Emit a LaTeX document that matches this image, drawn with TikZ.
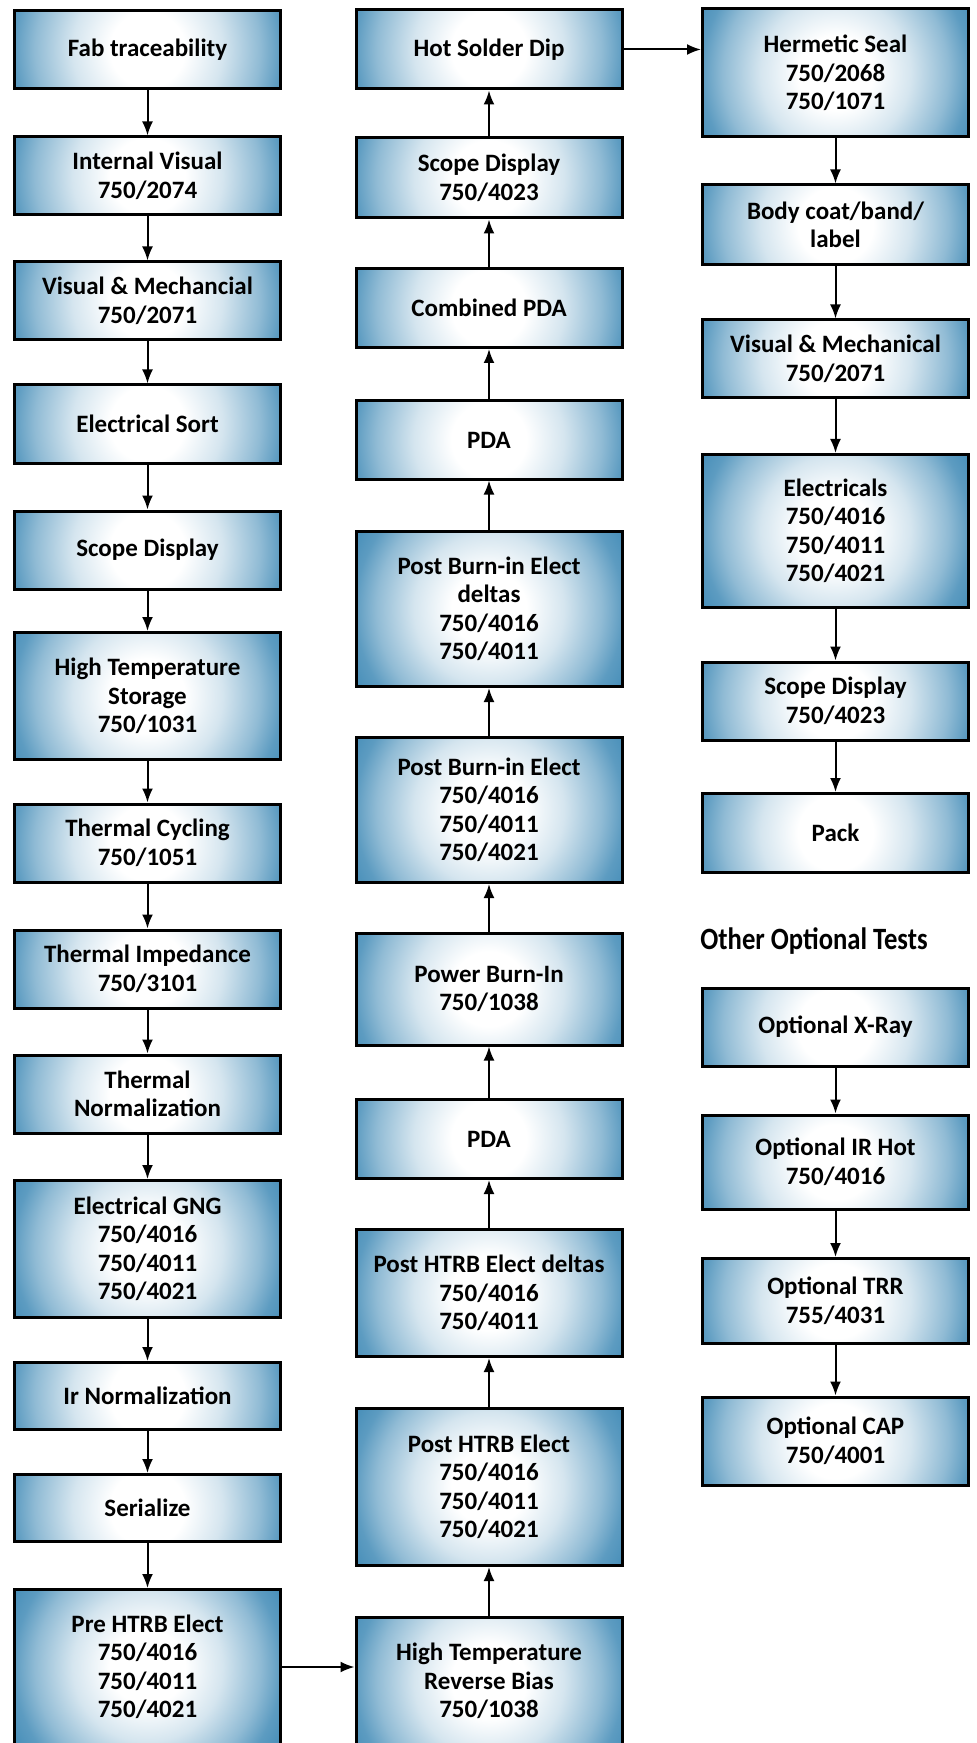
\documentclass[tikz,border=0pt]{standalone}
\usepackage{fontspec}
\setmainfont{Carlito}
\newfontfamily\titrefont{Carlito}[FakeStretch=0.86]
\usetikzlibrary{arrows.meta}
\definecolor{boxblue}{RGB}{64,138,182}
\pgfdeclareradialshading{boxshade}{\pgfpoint{0bp}{0bp}}{color(0bp)=(white); color(7bp)=(white); color(14bp)=(boxblue!22!white); color(21bp)=(boxblue!58!white); color(25bp)=(boxblue!85!white); color(30bp)=(boxblue); color(50bp)=(boxblue!85!black)}

\begin{document}
\begin{tikzpicture}[x=0.5pt,y=-0.5pt]
  \tikzstyle{flow}=[-{Latex[length=7pt,width=5.5pt]},line width=1pt]
\tikzset{stage/.style={draw,line width=1.5pt,minimum width=133pt,
minimum height=#1*0.5pt-1.5pt,inner sep=0pt,align=center,
font=\bfseries\fontsize{12.5}{14.25}\selectfont,
path picture={\shade[shading=boxshade] ([shift={(-67pt,-67pt)}]path picture bounding box.center) rectangle ++(134pt,134pt);}},
stage/.default=81}
\useasboundingbox (0,0) rectangle (976,1743);

% left column, going down
\node[stage] (A1) at (147.5,49.5){Fab traceability};
\node[stage] (A2) at (147.5,176){Internal Visual\\750/2074};
\node[stage] (A3) at (147.5,301){Visual \& Mechancial\\750/2071};
\node[stage] (A4) at (147.5,424){Electrical Sort};
\node[stage] (A5) at (147.5,550){Scope Display};
\node[stage=130] (A6) at (147.5,696){High Temperature\\Storage\\750/1031};
\node[stage] (A7) at (147.5,843){Thermal Cycling\\750/1051};
\node[stage] (A8) at (147.5,969){Thermal Impedance\\750/3101};
\node[stage] (A9) at (147.5,1094){Thermal\\Normalization};
\node[stage=140] (A10) at (147.5,1249){Electrical GNG\\750/4016\\750/4011\\750/4021};
\node[stage=70] (A11) at (147.5,1396){Ir Normalization};
\node[stage=70] (A12) at (147.5,1508){Serialize};
\node[stage=158] (A13) at (147.5,1667){Pre HTRB Elect\\750/4016\\750/4011\\750/4021};

% middle column, going up
\node[stage=130] (B1) at (489,1681){High Temperature\\Reverse Bias\\750/1038};
\node[stage=160] (B2) at (489,1487){Post HTRB Elect\\750/4016\\750/4011\\750/4021};
\node[stage=130] (B3) at (489,1293){Post HTRB Elect deltas\\750/4016\\750/4011};
\node[stage=82] (B4) at (489,1139){PDA};
\node[stage=115] (B5) at (489,989){Power Burn-In\\750/1038};
\node[stage=148] (B6) at (489,810){Post Burn-in Elect\\750/4016\\750/4011\\750/4021};
\node[stage=158] (B7) at (489,609){Post Burn-in Elect\\deltas\\750/4016\\750/4011};
\node[stage] (B8) at (489,440){PDA};
\node[stage=82] (B9) at (489,308){Combined PDA};
\node[stage=83] (B10) at (489,178){Scope Display\\750/4023};
\node[stage=82] (B11) at (489,49.5){Hot Solder Dip};

% right column, going down
\node[stage=131] (C1) at (835.5,73){Hermetic Seal\\750/2068\\750/1071};
\node[stage=83] (C2) at (835.5,225){Body coat/band/\\label};
\node[stage] (C3) at (835.5,359){Visual \& Mechanical\\750/2071};
\node[stage=156] (C4) at (835.5,531){Electricals\\750/4016\\750/4011\\750/4021};
\node[stage] (C5) at (835.5,701){Scope Display\\750/4023};
\node[stage=82] (C6) at (835.5,833){Pack};

\node[anchor=west,inner sep=0pt,font=\titrefont\bfseries\fontsize{15.5}{17}\selectfont] (T) at (700,941){Other Optional Tests};

\node[stage] (D1) at (835.5,1027){Optional X-Ray};
\node[stage=97] (D2) at (835.5,1162){Optional IR Hot\\750/4016};
\node[stage=88] (D3) at (835.5,1301){Optional TRR\\755/4031};
\node[stage=91] (D4) at (835.5,1441){Optional CAP\\750/4001};

\draw[flow] (A1) -- (A2);
\draw[flow] (A2) -- (A3);
\draw[flow] (A3) -- (A4);
\draw[flow] (A4) -- (A5);
\draw[flow] (A5) -- (A6);
\draw[flow] (A6) -- (A7);
\draw[flow] (A7) -- (A8);
\draw[flow] (A8) -- (A9);
\draw[flow] (A9) -- (A10);
\draw[flow] (A10) -- (A11);
\draw[flow] (A11) -- (A12);
\draw[flow] (A12) -- (A13);
\draw[flow] (A13.east) -- (A13.east -| B1.west);

\draw[flow] (B1) -- (B2);
\draw[flow] (B2) -- (B3);
\draw[flow] (B3) -- (B4);
\draw[flow] (B4) -- (B5);
\draw[flow] (B5) -- (B6);
\draw[flow] (B6) -- (B7);
\draw[flow] (B7) -- (B8);
\draw[flow] (B8) -- (B9);
\draw[flow] (B9) -- (B10);
\draw[flow] (B10) -- (B11);
\draw[flow] (B11.east) -- (B11.east -| C1.west);

\draw[flow] (C1) -- (C2);
\draw[flow] (C2) -- (C3);
\draw[flow] (C3) -- (C4);
\draw[flow] (C4) -- (C5);
\draw[flow] (C5) -- (C6);

\draw[flow] (D1) -- (D2);
\draw[flow] (D2) -- (D3);
\draw[flow] (D3) -- (D4);

  \end{tikzpicture}
\end{document}
